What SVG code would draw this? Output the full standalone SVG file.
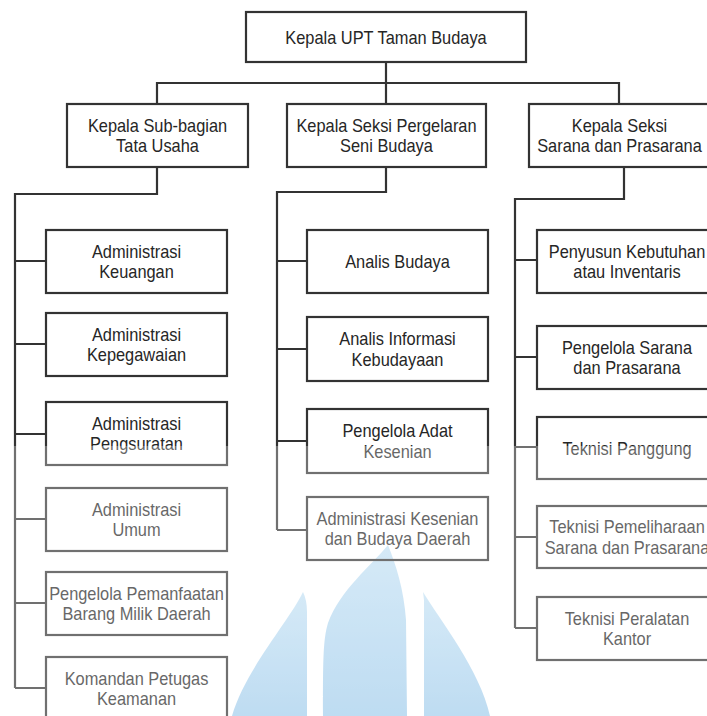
<svg xmlns="http://www.w3.org/2000/svg" width="707" height="716" viewBox="0 0 707 716">
<style>
.box{fill:none;stroke:#333333;stroke-width:2.2}
.lbl{font-family:"Liberation Sans",Arial,sans-serif;font-size:18.2px;fill:#262626;text-anchor:middle}
.conn{fill:none;stroke:#333333;stroke-width:2.2}
</style>
<defs>
<linearGradient id="wmg" x1="0" y1="0" x2="0" y2="1">
<stop offset="0" stop-color="#c4e1f4"/>
<stop offset="1" stop-color="#a2cdec"/>
</linearGradient>
</defs>
<rect x="0" y="0" width="707" height="716" fill="#ffffff"/>
<g id="watermark" fill="url(#wmg)">
<path d="M303 592 Q307 600 307 612 L307 716 L232 716 C245 670 290 620 303 592 Z"/>
<path d="M388 545 C372 565 340 590 328 623 C323 640 323 660 323 716 L407 716 L406 620 C404 590 396 565 388 545 Z"/>
<path d="M423 592 C440 620 480 670 490 716 L424 716 L424 600 Z"/>
</g>
<g id="connectors" class="conn">
<path d="M386 62 V83 M157 104 V83 H619 V104 M386 83 V104"/>
<path d="M157 167 V194 H15 V688 M15 261 H46 M15 344 H46 M15 434 H46 M15 519 H46 M15 603 H46 M15 688 H46"/>
<path d="M386 167 V192 H277 V530 M277 261 H307 M277 349 H307 M277 441 H307 M277 530 H307"/>
<path d="M624 167 V199 H515 V628 M515 260 H537 M515 357 H537 M515 447 H537 M515 537 H537 M515 628 H537"/>
</g>
<g id="n-kepala-upt"><rect class="box" x="246" y="12" width="280" height="50"/><text class="lbl" transform="translate(386,43.5) scale(0.9,1)">Kepala UPT Taman Budaya</text></g>
<g id="n-subbag"><rect class="box" x="67" y="104" width="181" height="63"/><text class="lbl" transform="translate(157.5,131.5) scale(0.9,1)"><tspan x="0">Kepala Sub-bagian</tspan><tspan x="0" dy="21">Tata Usaha</tspan></text></g>
<g id="n-pergelaran"><rect class="box" x="287" y="104" width="199" height="63"/><text class="lbl" transform="translate(386.5,131.5) scale(0.9,1)"><tspan x="0">Kepala Seksi Pergelaran</tspan><tspan x="0" dy="21">Seni Budaya</tspan></text></g>
<g id="n-sarana"><rect class="box" x="529" y="104" width="181" height="63"/><text class="lbl" transform="translate(619.5,131.5) scale(0.9,1)"><tspan x="0">Kepala Seksi</tspan><tspan x="0" dy="21">Sarana dan Prasarana</tspan></text></g>
<g id="n-keuangan"><rect class="box" x="46" y="230" width="181" height="63"/><text class="lbl" transform="translate(136.5,257.5) scale(0.9,1)"><tspan x="0">Administrasi</tspan><tspan x="0" dy="21">Keuangan</tspan></text></g>
<g id="n-kepegawaian"><rect class="box" x="46" y="313" width="181" height="63"/><text class="lbl" transform="translate(136.5,340.5) scale(0.9,1)"><tspan x="0">Administrasi</tspan><tspan x="0" dy="21">Kepegawaian</tspan></text></g>
<g id="n-pengsuratan"><rect class="box" x="46" y="402" width="181" height="63"/><text class="lbl" transform="translate(136.5,429.5) scale(0.9,1)"><tspan x="0">Administrasi</tspan><tspan x="0" dy="21">Pengsuratan</tspan></text></g>
<g id="n-umum"><rect class="box" x="46" y="488" width="181" height="63"/><text class="lbl" transform="translate(136.5,515.5) scale(0.9,1)"><tspan x="0">Administrasi</tspan><tspan x="0" dy="21">Umum</tspan></text></g>
<g id="n-bmd"><rect class="box" x="46" y="572" width="181" height="63"/><text class="lbl" transform="translate(136.5,599.5) scale(0.9,1)"><tspan x="0">Pengelola Pemanfaatan</tspan><tspan x="0" dy="21">Barang Milik Daerah</tspan></text></g>
<g id="n-keamanan"><rect class="box" x="46" y="657" width="181" height="63"/><text class="lbl" transform="translate(136.5,684.5) scale(0.9,1)"><tspan x="0">Komandan Petugas</tspan><tspan x="0" dy="21">Keamanan</tspan></text></g>
<g id="n-analis-budaya"><rect class="box" x="307" y="230" width="181" height="63"/><text class="lbl" transform="translate(397.5,268) scale(0.9,1)">Analis Budaya</text></g>
<g id="n-analis-info"><rect class="box" x="307" y="317" width="181" height="64"/><text class="lbl" transform="translate(397.5,345) scale(0.9,1)"><tspan x="0">Analis Informasi</tspan><tspan x="0" dy="21">Kebudayaan</tspan></text></g>
<g id="n-adat"><rect class="box" x="307" y="409" width="181" height="64"/><text class="lbl" transform="translate(397.5,437) scale(0.9,1)"><tspan x="0">Pengelola Adat</tspan><tspan x="0" dy="21">Kesenian</tspan></text></g>
<g id="n-adm-kesenian"><rect class="box" x="307" y="497" width="181" height="63"/><text class="lbl" transform="translate(397.5,524.5) scale(0.9,1)"><tspan x="0">Administrasi Kesenian</tspan><tspan x="0" dy="21">dan Budaya Daerah</tspan></text></g>
<g id="n-inventaris"><rect class="box" x="537" y="230" width="181" height="63"/><text class="lbl" transform="translate(627,257.5) scale(0.9,1)"><tspan x="0">Penyusun Kebutuhan</tspan><tspan x="0" dy="21">atau Inventaris</tspan></text></g>
<g id="n-pengelola-sarana"><rect class="box" x="537" y="326" width="181" height="63"/><text class="lbl" transform="translate(627,353.5) scale(0.9,1)"><tspan x="0">Pengelola Sarana</tspan><tspan x="0" dy="21">dan Prasarana</tspan></text></g>
<g id="n-panggung"><rect class="box" x="537" y="417" width="181" height="62"/><text class="lbl" transform="translate(627,454.5) scale(0.9,1)">Teknisi Panggung</text></g>
<g id="n-pemeliharaan"><rect class="box" x="537" y="506" width="181" height="62"/><text class="lbl" transform="translate(627,533) scale(0.9,1)"><tspan x="0">Teknisi Pemeliharaan</tspan><tspan x="0" dy="21">Sarana dan Prasarana</tspan></text></g>
<g id="n-peralatan"><rect class="box" x="537" y="597" width="181" height="63"/><text class="lbl" transform="translate(627,624.5) scale(0.9,1)"><tspan x="0">Teknisi Peralatan</tspan><tspan x="0" dy="21">Kantor</tspan></text></g>
<rect id="fade" x="0" y="446" width="707" height="270" fill="#ffffff" opacity="0.3"/>
</svg>
